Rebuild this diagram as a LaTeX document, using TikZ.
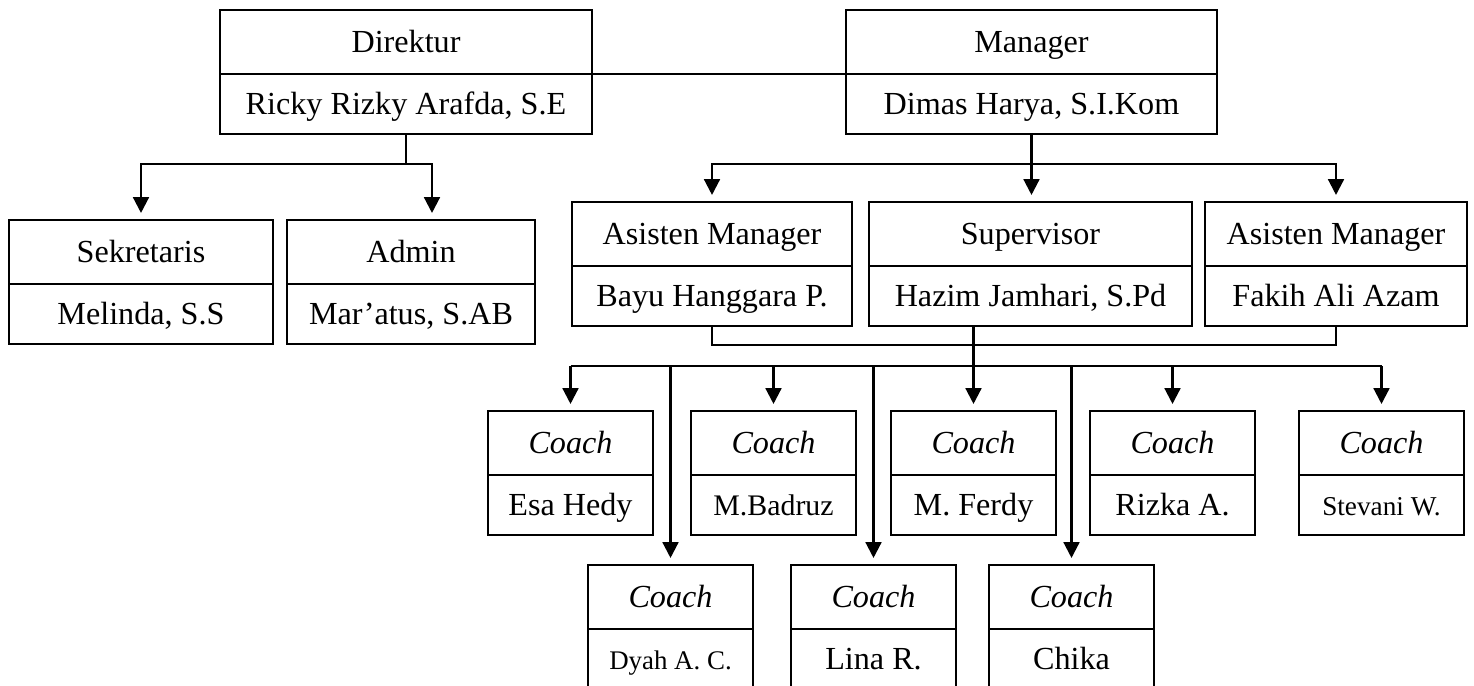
\documentclass[tikz,border=0pt]{standalone}
\usepackage{fontspec}
\setmainfont{Liberation Serif}
\usetikzlibrary{arrows.meta}

\begin{document}
\begin{tikzpicture}[x=0.02cm, y=-0.02cm,
  rolebox/.style={draw, line width=1.4pt, anchor=north west, inner sep=0pt, outer sep=0pt,
    minimum width=#1*0.02cm, minimum height=64*0.02cm,
    text height=12pt, text depth=0pt,
    font=\fontsize{18.3}{20}\selectfont},
  namebox/.style={rolebox=#1, minimum height=60*0.02cm},
  link/.style={line width=1.3pt},
  arrow/.style={link, -{Triangle[length=9pt,width=9pt]}, shorten >=4pt}]
\useasboundingbox (0,0) rectangle (1474,686);
\clip (0,0) rectangle (1474,686);

\node[rolebox=372] (dir) at (220,10) {Direktur};
\node[namebox=372] (dir-n) at (dir.south west) {Ricky Rizky Arafda, S.E};
\node[rolebox=371] (man) at (846,10) {Manager};
\node[namebox=371] (man-n) at (man.south west) {Dimas Harya, S.I.Kom};

\node[rolebox=264] (sek) at (9,220) {Sekretaris};
\node[namebox=264] (sek-n) at (sek.south west) {Melinda, S.S};
\node[rolebox=248] (adm) at (287,220) {Admin};
\node[namebox=248] (adm-n) at (adm.south west) {Mar’atus, S.AB};

\node[rolebox=280] (as1) at (572,202) {Asisten Manager};
\node[namebox=280] (as1-n) at (as1.south west) {Bayu Hanggara P.};
\node[rolebox=323] (sup) at (869,202) {Supervisor};
\node[namebox=323] (sup-n) at (sup.south west) {Hazim Jamhari, S.Pd};
\node[rolebox=262] (as2) at (1205,202) {Asisten Manager};
\node[namebox=262] (as2-n) at (as2.south west) {Fakih Ali Azam};

% coaches
\foreach \n/\x/\y/\sz/\who in {esa/488/411/18.3/Esa Hedy, bad/691/411/17/M.Badruz,
    fer/891/411/18.3/M. Ferdy, riz/1090/411/18.3/Rizka A., ste/1299/411/15.5/Stevani W.,
    dya/588/565/15.3/Dyah A. C., lin/791/565/18.3/Lina R., chi/989/565/18.3/Chika}
{
  \node[rolebox=165] (\n) at (\x,\y) {\itshape Coach};
  \node[namebox=165, font=\fontsize{\sz}{20}\selectfont] (\n-n) at (\n.south west) {\who};
}

% Direktur
\draw[link] (dir.south east) -- (man.south west);
\draw[link] (dir-n.south) -- ++(0,30) coordinate (dirbus);
\draw[arrow] (dirbus) -| (sek.north);
\draw[arrow] (dirbus) -| ([xshift=0.42cm]adm.north);

% Manager
\draw[link] (man-n.south) -- ++(0,30) coordinate (manbus);
\draw[arrow] (manbus) -| (as1.north);
\draw[arrow] (manbus) -- (manbus |- sup.north);
\draw[arrow] (manbus) -| (as2.north);

% assistants and supervisor
\coordinate (asbus) at (1000,345);
\draw[link] (as1-n.south) |- (asbus) -| (as2-n.south);
\coordinate (cbus) at (973,366);
\draw[link] (cbus -| esa.north) -- (cbus -| ste.north);
\draw[arrow] (sup-n.south -| fer.north) -- (fer.north);
\foreach \n in {esa,bad,riz,ste,dya,lin,chi}
  \draw[arrow] (cbus -| \n.north) -- (\n.north);
\end{tikzpicture}
\end{document}
